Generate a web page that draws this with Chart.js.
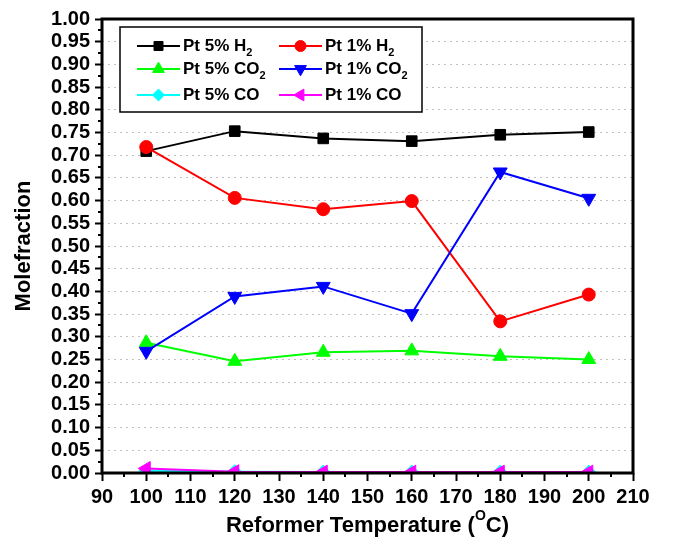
<!DOCTYPE html>
<html lang="en">
<head>
    <meta charset="UTF-8">
    <title>Molefraction vs Reformer Temperature</title>
    <script src="https://cdn.jsdelivr.net/npm/chart.js"></script>
    <style>
        html, body { margin: 0; padding: 0; background: #fff; }
        .wrap { width: 684px; height: 548px; }
    </style>
</head>
<body>
    <div class="wrap"><canvas id="moleChart" width="684" height="548"></canvas></div>

    <script>
        // data
        const temps = [100, 120, 140, 160, 180, 200];
        const pt5H2 = [0.709, 0.753, 0.737, 0.731, 0.745, 0.751];
        const pt1H2 = [0.718, 0.606, 0.581, 0.599, 0.334, 0.393];
        const pt5CO2 = [0.287, 0.246, 0.266, 0.269, 0.257, 0.250];
        const pt1CO2 = [0.268, 0.389, 0.411, 0.351, 0.663, 0.605];
        const pt5CO = [0.005, 0.003, 0.002, 0.002, 0.002, 0.002];
        const pt1CO = [0.010, 0.003, 0.002, 0.002, 0.002, 0.002];
        const seriesNames = ['Pt 5% H₂', 'Pt 1% H₂', 'Pt 5% CO₂', 'Pt 1% CO₂', 'Pt 5% CO', 'Pt 1% CO'];
        const xTitle = 'Reformer Temperature (';
        const yTitle = 'Molefraction';

        const FONT = '"Liberation Sans", Arial, sans-serif';

        function series(i, values, color, style, rotation, radius) {
            return {
                label: seriesNames[i],
                data: temps.map((t, k) => ({ x: t, y: values[k] })),
                borderColor: color,
                backgroundColor: color,
                borderWidth: 2,
                pointStyle: style,
                pointRotation: rotation,
                pointRadius: radius,
                pointBorderWidth: 1,
                pointHoverRadius: radius,
                tension: 0,
                order: 6 - i
            };
        }

        const datasets = [
            series(0, pt5H2, '#000000', 'rect', 0, 7.5),
            series(1, pt1H2, '#ff0000', 'circle', 0, 6.5),
            series(2, pt5CO2, '#00ff00', 'triangle', 0, 8),
            series(3, pt1CO2, '#0000ff', 'triangle', 180, 8),
            series(4, pt5CO, '#00ffff', 'rectRot', 0, 7),
            series(5, pt1CO, '#ff00ff', 'triangle', -90, 8)
        ];

        // text with subscript 2
        function drawRich(ctx, text, x, y, size) {
            const parts = text.split('₂');
            let cx = x;
            ctx.textAlign = 'left';
            ctx.textBaseline = 'middle';
            parts.forEach((p, i) => {
                ctx.font = 'bold ' + size + 'px ' + FONT;
                ctx.fillText(p, cx, y);
                cx += ctx.measureText(p).width;
                if (i < parts.length - 1) {
                    ctx.font = 'bold ' + Math.round(size * 0.62) + 'px ' + FONT;
                    ctx.fillText('2', cx, y + size * 0.42);
                    cx += ctx.measureText('2').width + 1;
                }
            });
        }

        const decorations = {
            id: 'decorations',
            afterDraw(chart) {
                const ctx = chart.ctx;
                const a = chart.chartArea;
                const xs = chart.scales.x, ys = chart.scales.y;
                ctx.save();

                // minor ticks
                ctx.strokeStyle = '#000';
                ctx.lineWidth = 2;
                ctx.beginPath();
                for (let v = 95; v < 210; v += 10) {
                    const px = Math.round(xs.getPixelForValue(v));
                    ctx.moveTo(px, a.bottom);
                    ctx.lineTo(px, a.bottom + 4);
                }
                for (let v = 0.025; v < 1; v += 0.05) {
                    const py = Math.round(ys.getPixelForValue(v));
                    ctx.moveTo(a.left, py);
                    ctx.lineTo(a.left - 4, py);
                }
                ctx.stroke();

                // frame
                ctx.lineWidth = 3;
                ctx.strokeRect(a.left, a.top, a.right - a.left, a.bottom - a.top);

                // axis titles
                ctx.fillStyle = '#000';
                ctx.font = 'bold 22px ' + FONT;
                ctx.textBaseline = 'middle';
                const w1 = ctx.measureText(xTitle).width;
                ctx.font = 'bold 14px ' + FONT;
                const w2 = ctx.measureText('O').width;
                ctx.font = 'bold 22px ' + FONT;
                const w3 = ctx.measureText('C)').width;
                let tx = (a.left + a.right) / 2 - (w1 + w2 + w3) / 2;
                const ty = 526;
                ctx.textAlign = 'left';
                ctx.fillText(xTitle, tx, ty);
                ctx.font = 'bold 14px ' + FONT;
                ctx.fillText('O', tx + w1, ty - 10);
                ctx.font = 'bold 22px ' + FONT;
                ctx.fillText('C)', tx + w1 + w2, ty);

                ctx.save();
                ctx.translate(24, (a.top + a.bottom) / 2);
                ctx.rotate(-Math.PI / 2);
                ctx.textAlign = 'center';
                ctx.fillText(yTitle, 0, 0);
                ctx.restore();

                // legend box
                const box = { x: 120, y: 27, w: 302, h: 85 };
                ctx.fillStyle = '#fff';
                ctx.fillRect(box.x, box.y, box.w, box.h);
                ctx.lineWidth = 1.5;
                ctx.strokeStyle = '#000';
                ctx.strokeRect(box.x, box.y, box.w, box.h);
                const rows = [46, 69, 95];
                const cols = [{ l: 137, r: 180, t: 183 }, { l: 279, r: 322, t: 325 }];
                datasets.forEach((ds, i) => {
                    const c = cols[i % 2], ry = rows[Math.floor(i / 2)];
                    ctx.strokeStyle = ds.borderColor;
                    ctx.fillStyle = ds.backgroundColor;
                    ctx.lineWidth = 2;
                    ctx.beginPath();
                    ctx.moveTo(c.l, ry);
                    ctx.lineTo(c.r, ry);
                    ctx.stroke();
                    ctx.lineWidth = 1;
                    Chart.helpers.drawPoint(ctx, {
                        pointStyle: ds.pointStyle,
                        rotation: ds.pointRotation,
                        radius: ds.pointRadius * 0.85,
                        borderWidth: 1
                    }, (c.l + c.r) / 2, ry);
                    ctx.fillStyle = '#000';
                    drawRich(ctx, ds.label, c.t, ry, 17);
                });

                ctx.restore();
            }
        };

        new Chart(document.getElementById('moleChart'), {
            type: 'line',
            data: { datasets: datasets },
            plugins: [decorations],
            options: {
                responsive: false,
                animation: false,
                layout: { padding: { left: 0, top: 19, right: 51, bottom: 0 } },
                plugins: { legend: { display: false }, tooltip: { enabled: false } },
                scales: {
                    x: {
                        type: 'linear',
                        min: 90,
                        max: 210,
                        afterFit(s) { s.height = 75; },
                        ticks: {
                            stepSize: 10,
                            autoSkip: false,
                            maxRotation: 0,
                            color: '#000',
                            padding: 4,
                            font: { family: FONT, size: 20, weight: 'bold' }
                        },
                        grid: { drawOnChartArea: false, tickLength: 8, tickWidth: 2, tickColor: '#000' },
                        border: { display: false }
                    },
                    y: {
                        min: 0,
                        max: 1,
                        afterFit(s) { s.width = 102; },
                        ticks: {
                            stepSize: 0.05,
                            autoSkip: false,
                            color: '#000',
                            padding: 5,
                            font: { family: FONT, size: 20, weight: 'bold', lineHeight: 1 },
                            callback: v => v.toFixed(2)
                        },
                        grid: {
                            color: '#c0c0c0',
                            lineWidth: 1,
                            tickLength: 7,
                            tickWidth: 2,
                            tickColor: '#000'
                        },
                        border: { display: false, dash: [2, 4] }
                    }
                }
            }
        });
    </script>
</body>
</html>
